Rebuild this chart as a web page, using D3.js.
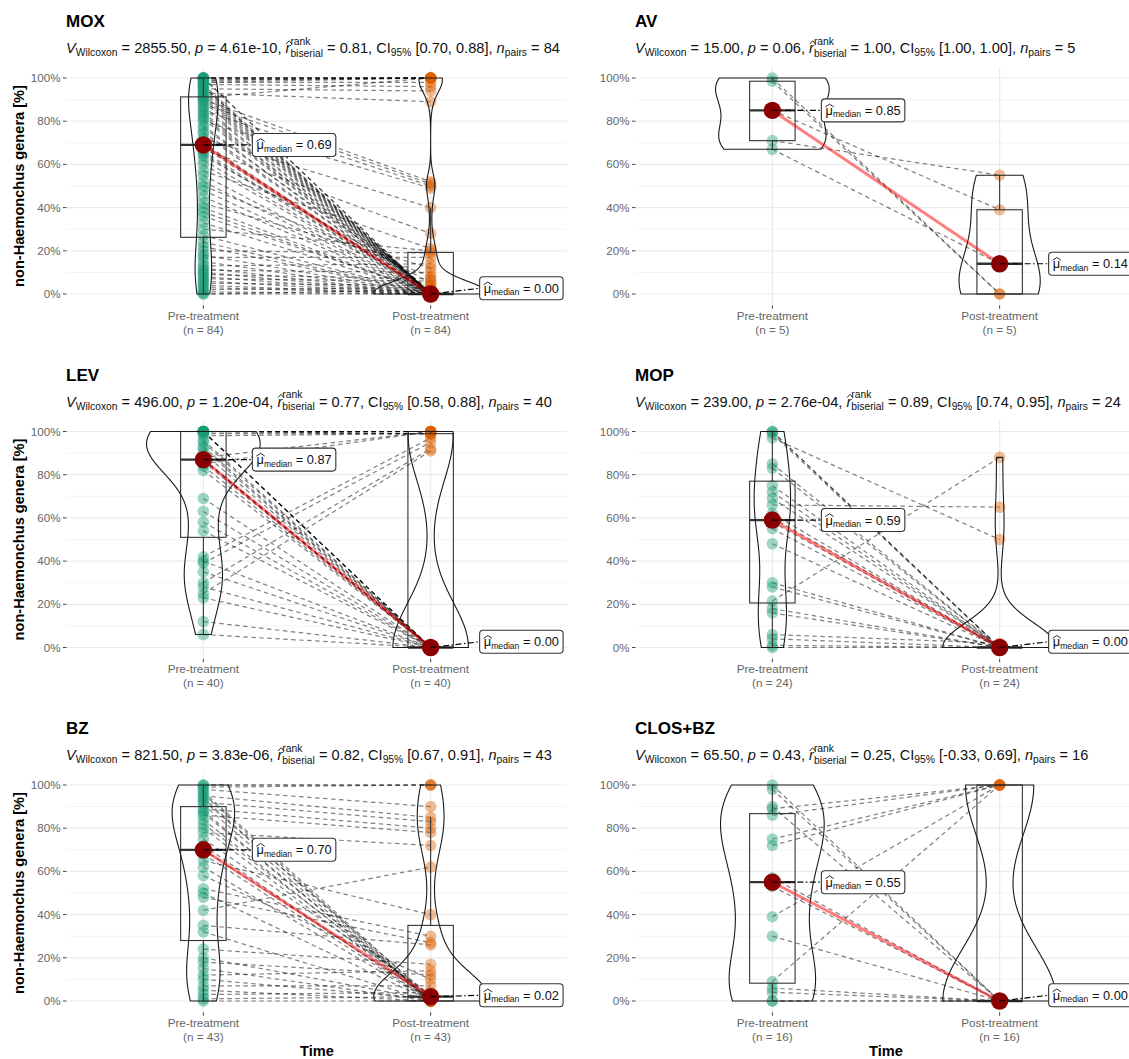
<!DOCTYPE html>
<html><head><meta charset="utf-8">
<script src="https://cdn.jsdelivr.net/npm/d3@7"></script>
<style>
body{margin:0;background:#fff}
svg{display:block}
text{font-family:"Liberation Sans",Arial,Helvetica,sans-serif;white-space:pre}
</style>
</head><body>
<svg id="c" width="1129" height="1059"></svg>
<script>
// ---------------- DATA ----------------
const panels = ["MOX", "AV", "LEV", "MOP", "BZ", "CLOS+BZ"];
const timeLevels = ["Pre-treatment", "Post-treatment"];
const yTicks = [0, 0.2, 0.4, 0.6, 0.8, 1];
const yMinorTicks = [0.1, 0.3, 0.5, 0.7, 0.9];
const vStat = ["2855.50", "15.00", "496.00", "239.00", "821.50", "65.50"];
const pValue = ["4.61e-10", "0.06", "1.20e-04", "2.76e-04", "3.83e-06", "0.43"];
const rBiserial = ["0.81", "1.00", "0.77", "0.89", "0.82", "0.25"];
const ciLow = ["0.70", "1.00", "0.58", "0.74", "0.67", "-0.33"];
const ciHigh = ["0.88", "1.00", "0.88", "0.95", "0.91", "0.69"];

// paired observations (same index = same animal), proportion of non-Haemonchus genera
const moxPre = [1,1,1,1,1,1,1,0.99,0.99,0.98,0.98,0.97,0.97,0.96,0.96,0.95,0.95,0.94,0.93,0.93,0.92,
  0.91,0.91,0.90,0.90,0.89,0.88,0.87,0.86,0.85,0.84,0.83,0.82,0.81,0.80,0.78,0.77,0.75,0.74,0.72,0.70,0.69,
  0.69,0.68,0.67,0.66,0.65,0.64,0.62,0.60,0.57,0.55,0.52,0.50,0.48,0.45,0.42,0.40,0.38,0.36,0.33,0.30,0.27,
  0,0,0.01,0.02,0.03,0.04,0.05,0.06,0.07,0.08,0.09,0.10,0.11,0.12,0.13,0.15,0.17,0.18,0.20,0.22,0.24];
const moxPost = [1,1,1,1,1,0,0,1,1,1,0.98,0,0.96,0,0,0,0.94,0,0,0.89,0,
  1,0,0.52,0,0,0.51,0,0,0.50,0,0.01,0,0,0.49,0,0.02,0,0,0.40,0,0,
  0,0,0.28,0,0,0.05,0,0,0.21,0,0,0.08,0,0,0.12,0,0,0.01,0,0.20,0,
  0,0.02,0,0.03,0,0,0.04,0,0.06,0,0.07,0,0.10,0,0.14,0,0.17,0,0.19,0,0];

const avPre = [1.00, 0.985, 0.85, 0.71, 0.67];
const avPost = [0.00, 0.00, 0.39, 0.55, 0.14];

const levPre = [1,1,1,1,1,1,1,1,1,1,1,0.99,0.98,0.96,0.95,0.93,0.92,0.90,0.88,0.87,0.87,0.87,0.86,0.85,
  0.84,0.82,0.69,0.63,0.58,0.54,0.42,0.40,0.39,0.35,0.30,0.28,0.25,0.23,0.12,0.06];
const levPost = [1,1,1,1,1,0.99,0.99,0,0,0,0,0.99,0.99,0,0,0,0,0,1,0,0,0,0,1,
  0,0,0,0,0,0,0.97,0,0.95,0,0.92,0,0.91,0,0,0];

const mopPre = [1.0,1.0,0.99,0.97,0.85,0.83,0.75,0.72,0.69,0.66,0.62,0.60,0.58,0.55,0.48,0.30,0.28,0.215,
  0.18,0.16,0.06,0.04,0.01,0];
const mopPost = [0,0,0,0.50,0,0,0,0,0,0.65,0,0,0,0,0,0,0,0.88,0,0,0.02,0,0,0];

const bzPre = [1,1,0.99,0.98,0.97,0.96,0.95,0.94,0.93,0.92,0.91,0.89,0.88,0.87,0.86,0.84,0.82,0.80,0.78,
  0.75,0.72,0.70,0.68,0.65,0.62,0.58,0.52,0.50,0.48,0.42,0.35,0.32,0.24,0.20,0.18,0.15,0.12,0.10,0.07,
  0.05,0.03,0.01,0];
const bzPost = [1,1,1,0.90,0.01,0,0.85,0,0.02,0.83,0,0.80,0,0.01,0.78,0,0.02,0,0.72,0.03,0,0.015,0,
  0.40,0,0.10,0.30,0,0.27,0.62,0.26,0,0.17,0.005,0.12,0,0.14,0.01,0.07,0,0.04,0.02,0];

const closPre = [1.0,0.98,0.90,0.89,0.86,0.75,0.72,0.57,0.53,0.39,0.30,0.09,0.06,0.04,0,0];
const closPost = [0,0,0,1,1,1,1,0,0,1,0,1,0,0,0,0];

const preSeries = [moxPre, avPre, levPre, mopPre, bzPre, closPre];
const postSeries = [moxPost, avPost, levPost, mopPost, bzPost, closPost];

// ---------------- STYLE / LAYOUT ----------------
const groupColors = ["#1B9E77", "#D95F02"];
const FONT = '"Liberation Sans",Arial,Helvetica,sans-serif';
const colX0 = [67, 636];
const rowY100 = [78, 431.5, 785];
const panelW = 500, yH = 216;

const svg = d3.select("#c");

function rich(g, x, y, segs) {
  let cx = x;
  segs.forEach(s => {
    if (s.stack) {
      const a = g.append("text").attr("x", cx).attr("y", y + s.supDy).attr("font-size", s.size).text(s.stack[0]);
      const b = g.append("text").attr("x", cx).attr("y", y + s.subDy).attr("font-size", s.size).text(s.stack[1]);
      cx += Math.max(a.node().getComputedTextLength(), b.node().getComputedTextLength());
    } else {
      const t = g.append("text").attr("x", cx).attr("y", y + (s.dy || 0))
        .attr("font-size", s.size).attr("font-style", s.it ? "italic" : null).text(s.t);
      const w = t.node().getComputedTextLength();
      if (s.hat) {
        const sh = s.it ? 1.2 : 0.3;
        const hl = cx + sh - 0.5, hr = cx + w + sh + 0.5;
        g.append("path")
          .attr("d", `M${hl},${y - s.hat[0]}L${(hl + hr) / 2},${y - s.hat[1]}L${hr},${y - s.hat[0]}`)
          .attr("fill", "none").attr("stroke", "#111").attr("stroke-width", 0.9);
      }
      cx += w;
    }
  });
  return cx - x;
}

function bwNrd0(v) {
  const hi = d3.deviation(v);
  const iqr = d3.quantile(v, 0.75) - d3.quantile(v, 0.25);
  let lo = Math.min(hi, iqr / 1.34);
  if (!lo) lo = hi || Math.abs(v[0]) || 1;
  return 0.9 * lo * Math.pow(v.length, -0.2);
}
function kde(v) {
  const bw = bwNrd0(v), n = v.length;
  const lo = d3.min(v), hi = d3.max(v);
  const pts = d3.range(512).map(i => lo + (hi - lo) * i / 511);
  const c = 1 / (n * bw * Math.sqrt(2 * Math.PI));
  return pts.map(p => ({ y: p, d: c * d3.sum(v, xi => Math.exp(-0.5 * ((p - xi) / bw) ** 2)) }));
}
function boxStats(v) {
  const q1 = d3.quantile(v, 0.25), med = d3.quantile(v, 0.5), q3 = d3.quantile(v, 0.75);
  const iqr = q3 - q1;
  const lw = d3.min(v.filter(a => a >= q1 - 1.5 * iqr));
  const uw = d3.max(v.filter(a => a <= q3 + 1.5 * iqr));
  return { q1, med, q3, lw, uw };
}

panels.forEach((name, i) => {
  const col = i % 2, row = Math.floor(i / 2);
  const x0 = colX0[col], y100 = rowY100[row];
  const x = d3.scaleLinear().domain([0.4, 2.6]).range([x0, x0 + panelW]);
  const y = d3.scaleLinear().domain([0, 1]).range([y100 + yH, y100]);
  const unit = x(1) - x(0);
  const top = y(1.05), bot = y(-0.05);
  const groups = [preSeries[i], postSeries[i]];
  const g = svg.append("g");

  // grid
  g.selectAll(".mn").data(yMinorTicks).join("line")
    .attr("x1", x0).attr("x2", x0 + panelW).attr("y1", d => y(d)).attr("y2", d => y(d))
    .attr("stroke", "#F3F3F3").attr("stroke-width", 1);
  g.selectAll(".mj").data(yTicks).join("line")
    .attr("x1", x0).attr("x2", x0 + panelW).attr("y1", d => y(d)).attr("y2", d => y(d))
    .attr("stroke", "#EBEBEB").attr("stroke-width", 1.2);
  g.selectAll(".vg").data([1, 2]).join("line")
    .attr("x1", d => x(d)).attr("x2", d => x(d)).attr("y1", top).attr("y2", bot)
    .attr("stroke", "#EBEBEB").attr("stroke-width", 1.2);

  // y axis
  g.selectAll(".yt").data(yTicks).join("line")
    .attr("x1", x0 - 4).attr("x2", x0 - 0.5).attr("y1", d => y(d)).attr("y2", d => y(d))
    .attr("stroke", "#444").attr("stroke-width", 1);
  g.selectAll(".yl").data(yTicks).join("text")
    .attr("x", x0 - 6.5).attr("y", d => y(d) + 4).attr("text-anchor", "end")
    .attr("font-size", 11.6).attr("fill", "#666").text(d => d3.format(".0%")(d));
  // x axis
  g.selectAll(".xt").data([1, 2]).join("line")
    .attr("x1", d => x(d)).attr("x2", d => x(d)).attr("y1", bot + 0.5).attr("y2", bot + 4)
    .attr("stroke", "#444").attr("stroke-width", 1);
  timeLevels.forEach((lv, k) => {
    g.append("text").attr("x", x(k + 1)).attr("y", bot + 15).attr("text-anchor", "middle")
      .attr("font-size", 11.7).attr("fill", "#666").text(lv);
    g.append("text").attr("x", x(k + 1)).attr("y", bot + 29).attr("text-anchor", "middle")
      .attr("font-size", 11.7).attr("fill", "#666").text(`(n = ${groups[k].length})`);
  });

  // titles
  g.append("text").attr("x", x0 - 1).attr("y", y100 - 51).attr("font-size", 17)
    .attr("font-weight", "bold").attr("fill", "#000").text(name);
  const st = g.append("g").attr("fill", "#111");
  const M = 14.6, S = 10.3;
  rich(st, x0 - 1, y100 - 25, [
    { t: "V", it: true, size: M }, { t: "Wilcoxon", size: S, dy: 3 },
    { t: ` = ${vStat[i]}, `, size: M }, { t: "p", it: true, size: M },
    { t: ` = ${pValue[i]}, `, size: M },
    { t: "r", it: true, size: M, hat: [9, 12.2] },
    { stack: ["rank", "biserial"], size: S, supDy: -8.5, subDy: 3.5 },
    { t: ` = ${rBiserial[i]}, CI`, size: M }, { t: "95%", size: S, dy: 3 },
    { t: ` [${ciLow[i]}, ${ciHigh[i]}], `, size: M }, { t: "n", it: true, size: M },
    { t: "pairs", size: S, dy: 3 }, { t: ` = ${groups[0].length}`, size: M }
  ]);
  if (col === 0) {
    g.append("text").attr("transform", `translate(24,${(top + bot) / 2}) rotate(-90)`)
      .attr("text-anchor", "middle").attr("font-size", 14.6).attr("font-weight", "bold")
      .text("non-Haemonchus genera [%]");
  }
  if (row === 2) {
    g.append("text").attr("x", x0 + panelW / 2).attr("y", bot + 44).attr("text-anchor", "middle")
      .attr("font-size", 14.6).attr("font-weight", "bold").text("Time");
  }

  // paired dashed paths
  g.append("g").selectAll("line").data(groups[0].map((v, k) => [v, groups[1][k]])).join("line")
    .attr("x1", x(1)).attr("x2", x(2)).attr("y1", d => y(d[0])).attr("y2", d => y(d[1]))
    .attr("stroke", "#000").attr("stroke-opacity", 0.5).attr("stroke-width", 1.2)
    .attr("stroke-dasharray", "4.5,3.5");

  // points
  groups.forEach((v, k) => {
    g.append("g").selectAll("circle").data(v).join("circle")
      .attr("cx", x(k + 1)).attr("cy", d => y(d)).attr("r", 5.8)
      .attr("fill", groupColors[k]).attr("fill-opacity", 0.42);
  });

  // boxplots
  groups.forEach((v, k) => {
    const b = boxStats(v), cx = x(k + 1), hw = 0.1 * unit;
    const bg = g.append("g").attr("stroke", "#333").attr("fill", "none");
    bg.append("line").attr("x1", cx).attr("x2", cx).attr("y1", y(b.q3)).attr("y2", y(b.uw)).attr("stroke-width", 1.1);
    bg.append("line").attr("x1", cx).attr("x2", cx).attr("y1", y(b.q1)).attr("y2", y(b.lw)).attr("stroke-width", 1.1);
    bg.append("rect").attr("x", cx - hw).attr("width", 2 * hw).attr("y", y(b.q3))
      .attr("height", Math.max(0.01, y(b.q1) - y(b.q3))).attr("stroke-width", 1.1);
    bg.append("line").attr("x1", cx - hw).attr("x2", cx + hw).attr("y1", y(b.med)).attr("y2", y(b.med))
      .attr("stroke-width", 2.3);
  });

  // violins (scale = "area": common density scale within panel)
  const dens = groups.map(kde);
  const maxD = d3.max(dens.flat(), d => d.d);
  dens.forEach((dd, k) => {
    const cx = x(k + 1);
    const w = d => d.d / maxD * 0.25 * unit;
    const area = d3.area().y(d => y(d.y)).x0(d => cx - w(d)).x1(d => cx + w(d));
    g.append("path").attr("d", area(dd) + "Z").attr("fill", "none")
      .attr("stroke", "#1a1a1a").attr("stroke-width", 1.1);
  });

  // centrality path + points
  const meds = groups.map(v => d3.median(v));
  g.append("line").attr("x1", x(1)).attr("x2", x(2)).attr("y1", y(meds[0])).attr("y2", y(meds[1]))
    .attr("stroke", "red").attr("stroke-opacity", 0.5).attr("stroke-width", 3);
  meds.forEach((m, k) => {
    g.append("circle").attr("cx", x(k + 1)).attr("cy", y(m)).attr("r", 8.7).attr("fill", "#8B0000");
  });

  // labels
  meds.forEach((m, k) => {
    const px = x(k + 1), py = y(m), h = 23;
    let cy = Math.min(py, bot - h / 2 - 5);
    cy = Math.max(cy, top + h / 2 + 5);
    const lx = px + 49, pad = 4.2;
    g.append("line").attr("x1", px).attr("y1", py).attr("x2", lx).attr("y2", cy)
      .attr("stroke", "#000").attr("stroke-width", 1.2).attr("stroke-dasharray", "6,2.5,1.5,2.5");
    const lg = g.append("g");
    const rect = lg.append("rect");
    const tg = lg.append("g").attr("fill", "#111");
    const w = rich(tg, lx + pad, cy + 4.5, [
      { t: "\u03bc", size: 12.8, hat: [8, 10.8] }, { t: "median", size: 8.6, dy: 2.5 },
      { t: ` = ${d3.format(".2f")(m)}`, size: 12.8 }
    ]);
    rect.attr("x", lx).attr("y", cy - h / 2).attr("width", w + 2 * pad).attr("height", h)
      .attr("rx", 3.5).attr("fill", "#fff").attr("stroke", "#333").attr("stroke-width", 1.1);
  });
});
</script>
</body></html>
